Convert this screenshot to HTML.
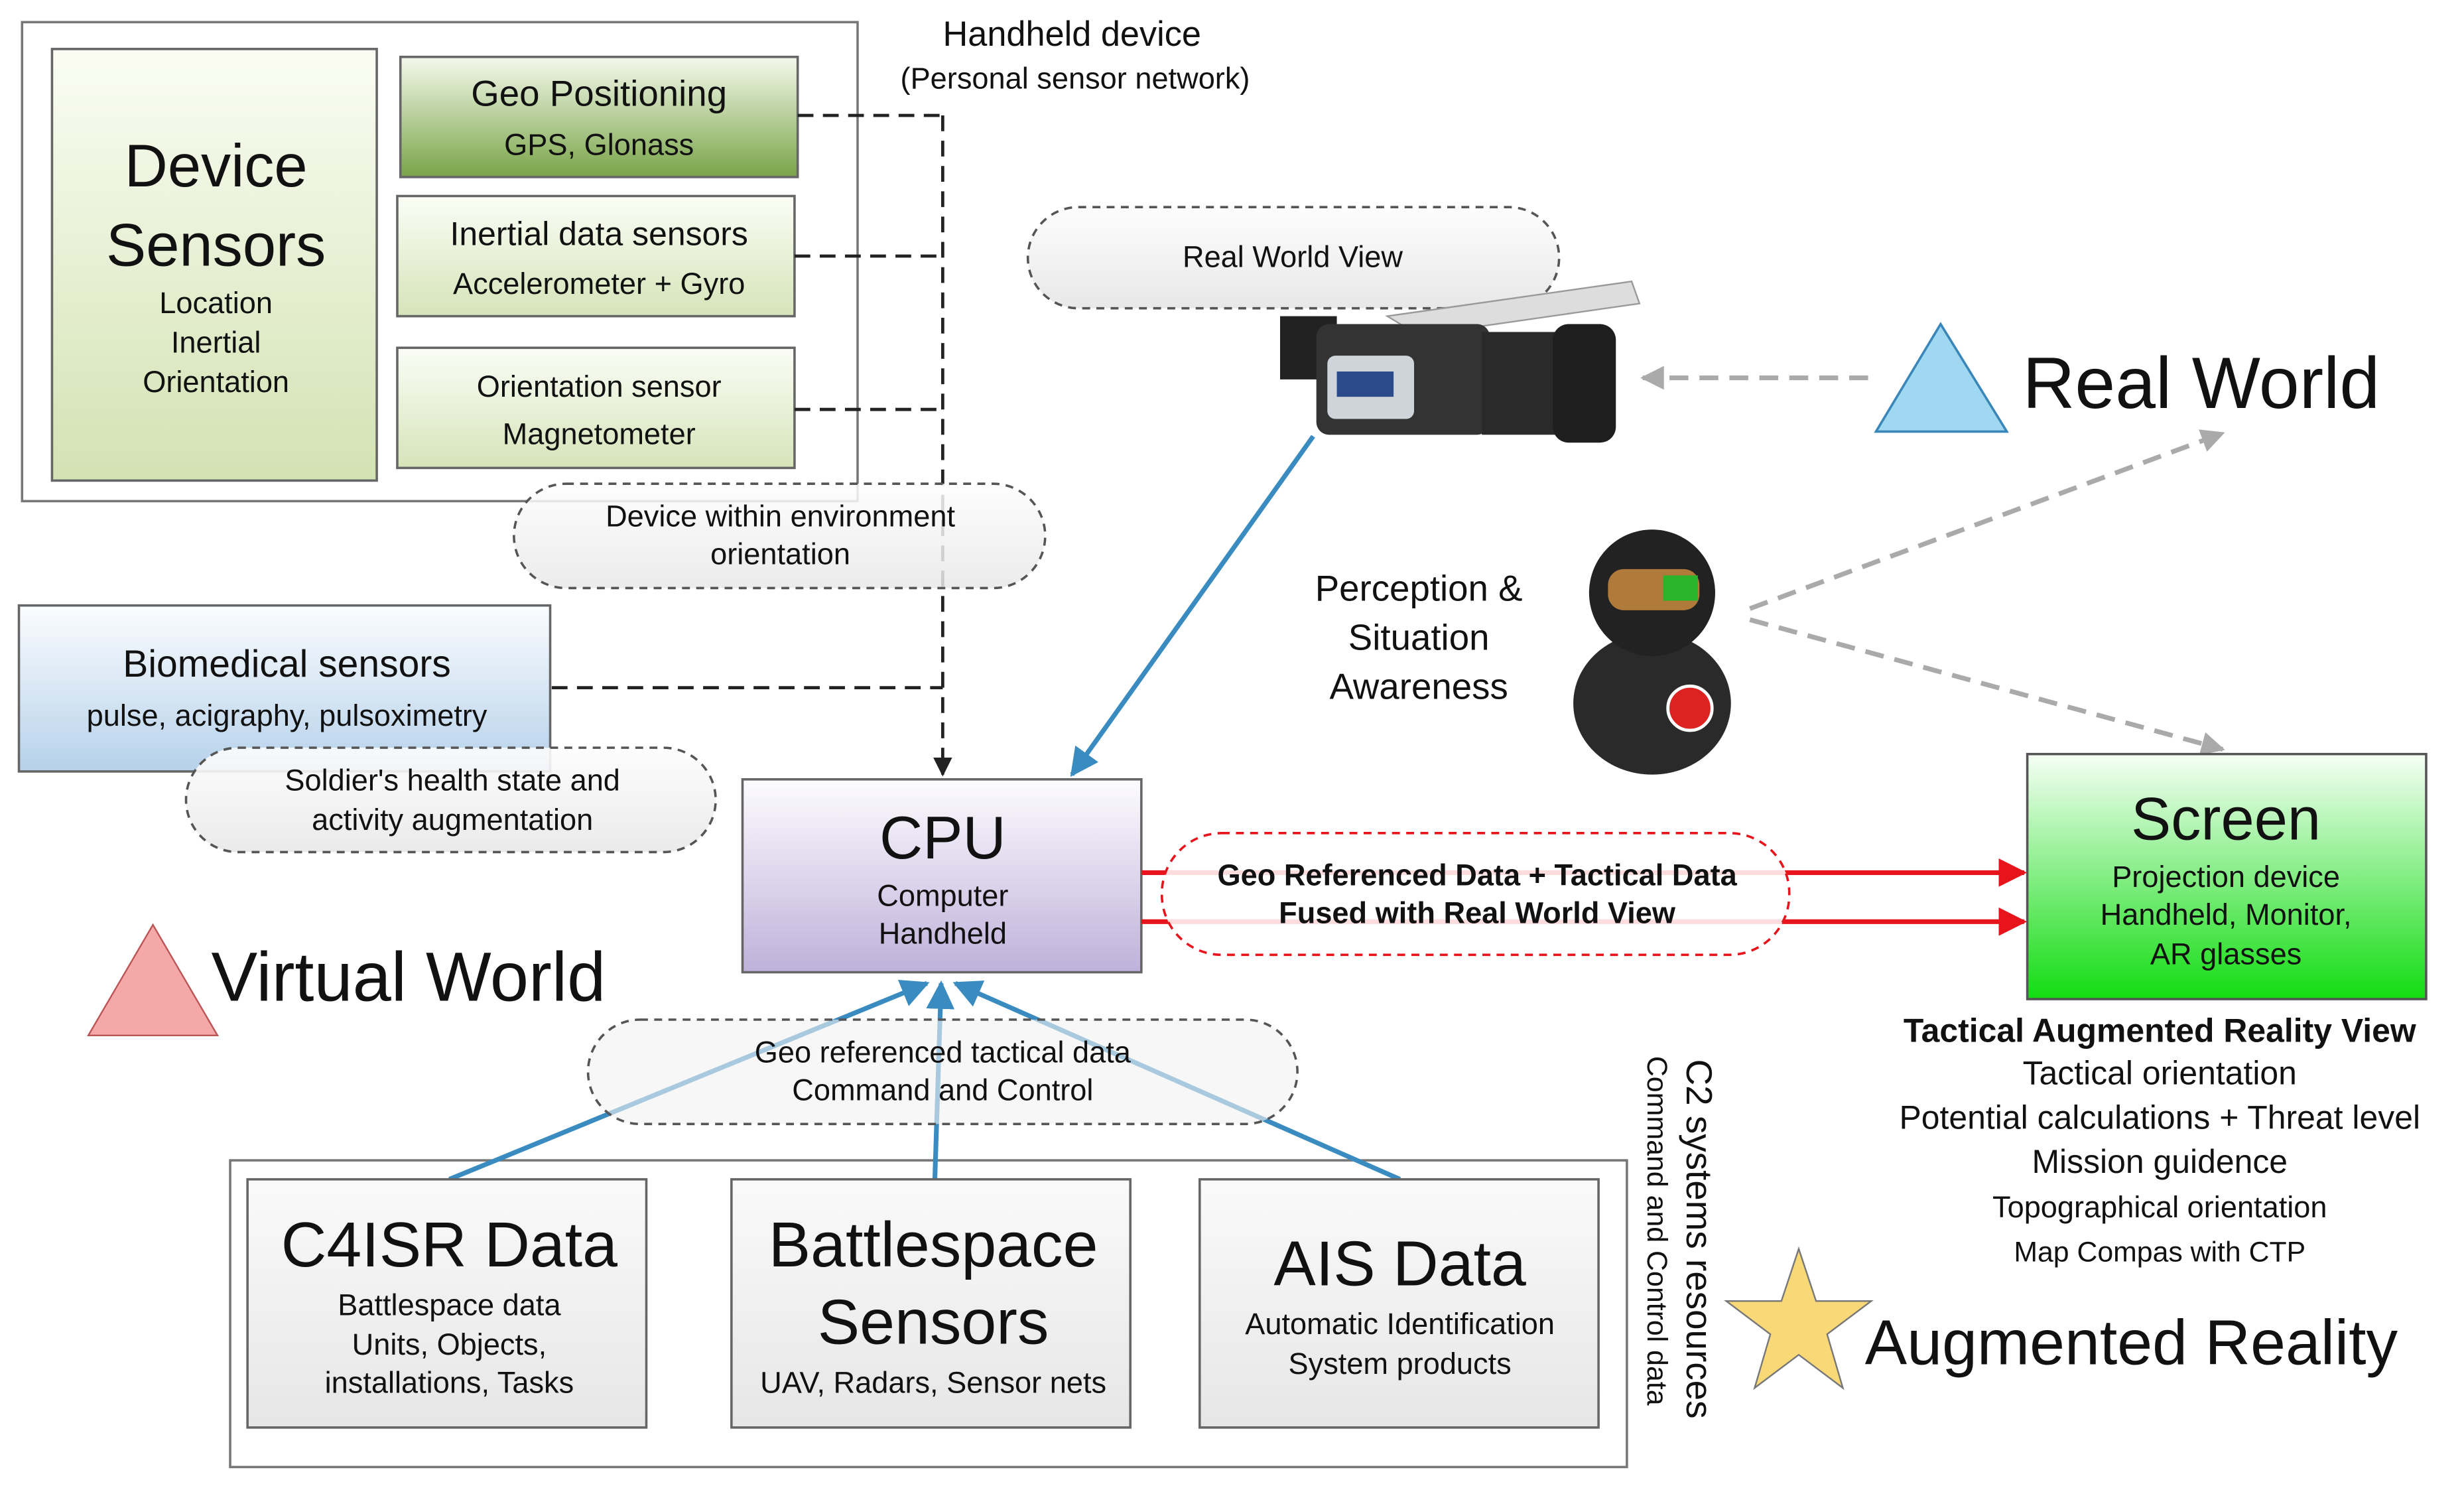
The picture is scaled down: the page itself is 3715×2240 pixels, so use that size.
<!DOCTYPE html>
<html><head><meta charset="utf-8"><style>
html,body{margin:0;padding:0;background:#fff;}
svg{display:block;}
text{font-family:"Liberation Sans",sans-serif;fill:#111;}
</style></head><body>
<svg width="3715" height="2240" viewBox="0 0 1563 940" preserveAspectRatio="none" xmlns="http://www.w3.org/2000/svg">
<defs>
<linearGradient id="gDev" x1="0" y1="0" x2="0" y2="1"><stop offset="0" stop-color="#fbfdf4"/><stop offset="1" stop-color="#d3e2b3"/></linearGradient>
<linearGradient id="gGeo" x1="0" y1="0" x2="0" y2="1"><stop offset="0" stop-color="#f4f9ec"/><stop offset="1" stop-color="#79a448"/></linearGradient>
<linearGradient id="gLt" x1="0" y1="0" x2="0" y2="1"><stop offset="0" stop-color="#fbfdf6"/><stop offset="1" stop-color="#d6e4b9"/></linearGradient>
<linearGradient id="gBio" x1="0" y1="0" x2="0" y2="1"><stop offset="0" stop-color="#fbfdff"/><stop offset="1" stop-color="#b6d1ea"/></linearGradient>
<linearGradient id="gCpu" x1="0" y1="0" x2="0" y2="1"><stop offset="0" stop-color="#fdfcff"/><stop offset="1" stop-color="#bfb1da"/></linearGradient>
<linearGradient id="gScr" x1="0" y1="0" x2="0" y2="1"><stop offset="0" stop-color="#f6fff6"/><stop offset="1" stop-color="#12dc12"/></linearGradient>
<linearGradient id="gGray" x1="0" y1="0" x2="0" y2="1"><stop offset="0" stop-color="#fdfdfd"/><stop offset="1" stop-color="#e8e8e8"/></linearGradient>
<linearGradient id="gBot" x1="0" y1="0" x2="0" y2="1"><stop offset="0" stop-color="#fafafa"/><stop offset="1" stop-color="#e6e6e6"/></linearGradient>
<marker id="aBlk" viewBox="0 0 10 10" refX="9" refY="5" markerWidth="6" markerHeight="6" orient="auto"><path d="M0,0L10,5L0,10z" fill="#222"/></marker>
<marker id="aBlu" viewBox="0 0 10 10" refX="9" refY="5" markerWidth="6" markerHeight="6" orient="auto"><path d="M0,0L10,5L0,10z" fill="#3a8cc0"/></marker>
<marker id="aRed" viewBox="0 0 10 10" refX="9" refY="5" markerWidth="6" markerHeight="6" orient="auto"><path d="M0,0L10,5L0,10z" fill="#e8141c"/></marker>
<marker id="aGry" viewBox="0 0 10 10" refX="9" refY="5" markerWidth="5" markerHeight="5" orient="auto"><path d="M0,0L10,5L0,10z" fill="#aaa"/></marker>
</defs>

<!-- handheld outer -->
<rect x="14" y="14" width="530" height="303" fill="#fff" stroke="#777" stroke-width="1.5"/>
<text x="680" y="29" font-size="22" text-anchor="middle">Handheld device</text>
<text x="682" y="56" font-size="19" text-anchor="middle">(Personal sensor network)</text>

<rect x="33" y="31" width="206" height="273" fill="url(#gDev)" stroke="#666" stroke-width="1.5"/>
<text x="137" y="118" font-size="38" text-anchor="middle">Device</text>
<text x="137" y="168" font-size="38" text-anchor="middle">Sensors</text>
<text x="137" y="198" font-size="19" text-anchor="middle">Location</text>
<text x="137" y="223" font-size="19" text-anchor="middle">Inertial</text>
<text x="137" y="248" font-size="19" text-anchor="middle">Orientation</text>

<rect x="254" y="36" width="252" height="76" fill="url(#gGeo)" stroke="#666" stroke-width="1.5"/>
<text x="380" y="67" font-size="23" text-anchor="middle">Geo Positioning</text>
<text x="380" y="98" font-size="19" text-anchor="middle">GPS, Glonass</text>

<rect x="252" y="124" width="252" height="76" fill="url(#gLt)" stroke="#666" stroke-width="1.5"/>
<text x="380" y="155" font-size="21" text-anchor="middle">Inertial data sensors</text>
<text x="380" y="186" font-size="19" text-anchor="middle">Accelerometer + Gyro</text>

<rect x="252" y="220" width="252" height="76" fill="url(#gLt)" stroke="#666" stroke-width="1.5"/>
<text x="380" y="251" font-size="19" text-anchor="middle">Orientation sensor</text>
<text x="380" y="281" font-size="19" text-anchor="middle">Magnetometer</text>

<!-- dashed connectors -->
<g stroke="#222" stroke-width="2" stroke-dasharray="10,6" fill="none">
<line x1="506" y1="73" x2="598" y2="73"/>
<line x1="504" y1="162" x2="598" y2="162"/>
<line x1="504" y1="259" x2="598" y2="259"/>
<line x1="350" y1="435" x2="598" y2="435"/>
<line x1="598" y1="73" x2="598" y2="490" marker-end="url(#aBlk)"/>
</g>

<rect x="326" y="306" width="337" height="66" rx="33" fill="url(#gGray)" fill-opacity="0.85" stroke="#555" stroke-width="1.5" stroke-dasharray="5,4"/>
<text x="495" y="333" font-size="19" text-anchor="middle">Device within environment</text>
<text x="495" y="357" font-size="19" text-anchor="middle">orientation</text>

<rect x="12" y="383" width="337" height="105" fill="url(#gBio)" stroke="#666" stroke-width="1.5"/>
<text x="182" y="428" font-size="24" text-anchor="middle">Biomedical sensors</text>
<text x="182" y="459" font-size="19" text-anchor="middle">pulse, acigraphy, pulsoximetry</text>

<rect x="118" y="473" width="336" height="66" rx="33" fill="url(#gGray)" fill-opacity="0.9" stroke="#555" stroke-width="1.5" stroke-dasharray="5,4"/>
<text x="287" y="500" font-size="19" text-anchor="middle">Soldier's health state and</text>
<text x="287" y="525" font-size="19" text-anchor="middle">activity augmentation</text>

<!-- CPU -->
<rect x="471" y="493" width="253" height="122" fill="url(#gCpu)" stroke="#666" stroke-width="1.5"/>
<text x="598" y="543" font-size="38" text-anchor="middle">CPU</text>
<text x="598" y="573" font-size="19" text-anchor="middle">Computer</text>
<text x="598" y="597" font-size="19" text-anchor="middle">Handheld</text>

<!-- Virtual world -->
<polygon points="56,655 97,585 138,655" fill="#f4a8a8" stroke="#b55" stroke-width="1"/>
<text x="134" y="633" font-size="44">Virtual World</text>

<!-- Real world view -->
<rect x="652" y="131" width="337" height="64" rx="32" fill="url(#gGray)" stroke="#555" stroke-width="1.5" stroke-dasharray="5,4"/>
<text x="820" y="169" font-size="19" text-anchor="middle">Real World View</text>

<!-- camera -->
<g>
<polygon points="880,200 1035,178 1040,192 900,212" fill="#ddd" stroke="#999"/>
<rect x="812" y="200" width="36" height="40" fill="#222"/>
<rect x="835" y="205" width="110" height="70" rx="8" fill="#333"/>
<rect x="842" y="225" width="55" height="40" rx="5" fill="#cfd4da"/>
<rect x="848" y="235" width="36" height="16" fill="#2a4a8a"/>
<rect x="940" y="210" width="50" height="65" fill="#2a2a2a"/>
<rect x="985" y="205" width="40" height="75" rx="10" fill="#1e1e1e"/>
</g>
<line x1="1185" y1="239" x2="1042" y2="239" stroke="#aaa" stroke-width="3" stroke-dasharray="12,7" marker-end="url(#aGry)"/>

<polygon points="1190,273 1231,205 1273,273" fill="#9fd8f0" stroke="#3a86b8" stroke-width="1.5"/>
<text x="1283" y="258" font-size="46">Real World</text>

<!-- person -->
<g>
<ellipse cx="1048" cy="445" rx="50" ry="45" fill="#2a2a2a"/>
<circle cx="1048" cy="375" r="40" fill="#222"/>
<rect x="1020" y="360" width="58" height="26" rx="10" fill="#b07a3a"/>
<rect x="1055" y="364" width="22" height="16" fill="#2bb52b"/>
<circle cx="1072" cy="448" r="14" fill="#d22" stroke="#fff" stroke-width="2"/>
</g>
<text x="900" y="380" font-size="23" text-anchor="middle">Perception &amp;</text>
<text x="900" y="411" font-size="23" text-anchor="middle">Situation</text>
<text x="900" y="442" font-size="23" text-anchor="middle">Awareness</text>
<g stroke="#aaa" stroke-width="3" stroke-dasharray="12,7" fill="none">
<line x1="1110" y1="385" x2="1410" y2="274" marker-end="url(#aGry)"/>
<line x1="1110" y1="392" x2="1410" y2="474" marker-end="url(#aGry)"/>
</g>

<line x1="833" y1="276" x2="680" y2="490" stroke="#3a8cc0" stroke-width="3" marker-end="url(#aBlu)"/>

<!-- screen -->
<rect x="1286" y="477" width="253" height="155" fill="url(#gScr)" stroke="#555" stroke-width="1.5"/>
<text x="1412" y="531" font-size="38" text-anchor="middle">Screen</text>
<text x="1412" y="561" font-size="19" text-anchor="middle">Projection device</text>
<text x="1412" y="585" font-size="19" text-anchor="middle">Handheld, Monitor,</text>
<text x="1412" y="610" font-size="19" text-anchor="middle">AR glasses</text>

<g stroke="#e8141c" stroke-width="3">
<line x1="724" y1="552" x2="1284" y2="552" marker-end="url(#aRed)"/>
<line x1="724" y1="583" x2="1284" y2="583" marker-end="url(#aRed)"/>
</g>
<rect x="737" y="527" width="398" height="77" rx="38" fill="#fff" fill-opacity="0.85" stroke="#e8141c" stroke-width="1.5" stroke-dasharray="5,4"/>
<text x="937" y="560" font-size="19" font-weight="bold" text-anchor="middle">Geo Referenced Data + Tactical Data</text>
<text x="937" y="584" font-size="19" font-weight="bold" text-anchor="middle">Fused with Real World View</text>

<text x="1370" y="659" font-size="21" font-weight="bold" text-anchor="middle">Tactical Augmented Reality View</text>
<text x="1370" y="686" font-size="21" text-anchor="middle">Tactical orientation</text>
<text x="1370" y="714" font-size="21" text-anchor="middle">Potential calculations + Threat level</text>
<text x="1370" y="742" font-size="21" text-anchor="middle">Mission guidence</text>
<text x="1370" y="770" font-size="19" text-anchor="middle">Topographical orientation</text>
<text x="1370" y="798" font-size="18" text-anchor="middle">Map Compas with CTP</text>

<polygon points="1141,790 1152,823 1187,823 1159,844 1169,878 1141,857 1113,878 1123,844 1095,823 1130,823" fill="#f9d878" stroke="#777" stroke-width="1"/>
<text x="1183" y="863" font-size="40">Augmented Reality</text>

<!-- bottom -->
<rect x="146" y="734" width="886" height="194" fill="#fff" stroke="#777" stroke-width="1.5"/>
<g stroke="#3a8cc0" stroke-width="3" fill="none">
<line x1="285" y1="746" x2="588" y2="622" marker-end="url(#aBlu)"/>
<line x1="593" y1="746" x2="597" y2="622" marker-end="url(#aBlu)"/>
<line x1="888" y1="746" x2="606" y2="622" marker-end="url(#aBlu)"/>
</g>
<rect x="373" y="645" width="450" height="66" rx="33" fill="#f2f2f2" fill-opacity="0.6" stroke="#555" stroke-width="1.5" stroke-dasharray="5,4"/>
<text x="598" y="672" font-size="19" text-anchor="middle">Geo referenced tactical data</text>
<text x="598" y="696" font-size="19" text-anchor="middle">Command and Control</text>

<rect x="157" y="746" width="253" height="157" fill="url(#gBot)" stroke="#666" stroke-width="1.5"/>
<text x="285" y="801" font-size="40" text-anchor="middle">C4ISR Data</text>
<text x="285" y="832" font-size="19" text-anchor="middle">Battlespace data</text>
<text x="285" y="857" font-size="19" text-anchor="middle">Units, Objects,</text>
<text x="285" y="881" font-size="19" text-anchor="middle">installations, Tasks</text>

<rect x="464" y="746" width="253" height="157" fill="url(#gBot)" stroke="#666" stroke-width="1.5"/>
<text x="592" y="801" font-size="40" text-anchor="middle">Battlespace</text>
<text x="592" y="850" font-size="40" text-anchor="middle">Sensors</text>
<text x="592" y="881" font-size="19" text-anchor="middle">UAV, Radars, Sensor nets</text>

<rect x="761" y="746" width="253" height="157" fill="url(#gBot)" stroke="#666" stroke-width="1.5"/>
<text x="888" y="813" font-size="40" text-anchor="middle">AIS Data</text>
<text x="888" y="844" font-size="19" text-anchor="middle">Automatic Identification</text>
<text x="888" y="869" font-size="19" text-anchor="middle">System products</text>

<text transform="translate(1070,670) rotate(90)" font-size="23">C2 systems resources</text>
<text transform="translate(1045,668) rotate(90)" font-size="18">Command and Control data</text>
</svg>
</body></html>
